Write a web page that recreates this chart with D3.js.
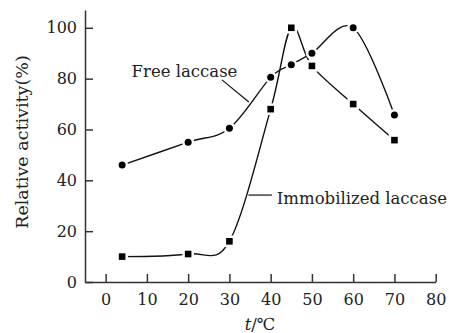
<!DOCTYPE html>
<html>
<head>
<meta charset="utf-8">
<script src="https://cdn.jsdelivr.net/npm/d3@7"></script>
<style>
  body { margin: 0; background: #fff; }
  svg text { font-family: "DejaVu Serif", "Liberation Serif", serif; fill: #222; }
</style>
</head>
<body>
<div id="chartContainer"></div>
<script>
// temperatures (°C) and relative activity (%)
var temps = [4, 20, 30, 40, 45, 50, 60, 70];
var freeLaccase = [46, 55, 60.5, 80.5, 85.5, 90, 100, 65.7];
var immobilizedLaccase = [10, 11, 16, 68, 100, 85, 70, 55.8];
var xTicks = [0, 10, 20, 30, 40, 50, 60, 70, 80];
var yTicks = [0, 20, 40, 60, 80, 100];

var width = 449, height = 333;

var x = d3.scaleLinear().domain([-5, 80]).range([85, 435.7]);
var y = d3.scaleLinear().domain([0, 107]).range([282, 10]);

var svg = d3.select('#chartContainer').append('svg')
    .attr('width', width).attr('height', height);

// axes, ticks pointing inwards
var xAxis = d3.axisBottom(x).tickValues(xTicks).tickSizeInner(-8).tickSizeOuter(0).tickPadding(12);
var yAxis = d3.axisLeft(y).tickValues(yTicks).tickSizeInner(-8).tickSizeOuter(0).tickPadding(8);

var gx = svg.append('g').attr('transform', 'translate(0,' + y(0) + ')').call(xAxis);
var gy = svg.append('g').attr('transform', 'translate(' + x(-5) + ',0)').call(yAxis);

[gx, gy].forEach(function(g) {
    g.selectAll('path, line').attr('stroke', '#333').attr('stroke-width', 1.5);
    g.selectAll('text').attr('font-size', '16px').attr('font-family', '"DejaVu Serif", serif').attr('fill', '#222');
});

// curves
var line = d3.line()
    .x(function(d) { return x(d[0]); })
    .y(function(d) { return y(d[1]); })
    .curve(d3.curveCardinal.tension(0));

var series = [
    { name: 'free', values: freeLaccase, shape: 'circle' },
    { name: 'immobilized', values: immobilizedLaccase, shape: 'square' }
];

series.forEach(function(s) {
    var pts = temps.map(function(t, i) { return [t, s.values[i]]; });
    svg.append('path').datum(pts)
        .attr('d', line)
        .attr('fill', 'none')
        .attr('stroke', '#111')
        .attr('stroke-width', 1.4);
});

// markers with a white halo so the line stops short of them
series.forEach(function(s) {
    var pts = temps.map(function(t, i) { return [t, s.values[i]]; });
    var g = svg.append('g');
    [{ pad: 2.5, fill: '#fff' }, { pad: 0, fill: '#000' }].forEach(function(layer) {
        if (s.shape === 'circle') {
            g.selectAll(null).data(pts).enter().append('circle')
                .attr('cx', function(d) { return x(d[0]); })
                .attr('cy', function(d) { return y(d[1]); })
                .attr('r', 3.5 + layer.pad)
                .attr('fill', layer.fill);
        } else {
            var h = 3.3 + layer.pad;
            g.selectAll(null).data(pts).enter().append('rect')
                .attr('x', function(d) { return x(d[0]) - h; })
                .attr('y', function(d) { return y(d[1]) - h; })
                .attr('width', 2 * h).attr('height', 2 * h)
                .attr('fill', layer.fill);
        }
    });
});

// series labels with leader lines (in data coordinates)
var labels = [
    { text: 'Free laccase', tx: 6.3, ty: 80.6, from: [28.2, 79.5], to: [34.7, 70.8] },
    { text: 'Immobilized laccase', tx: 41.5, ty: 30.7, from: [34.6, 34.2], to: [40.3, 34.2] }
];

labels.forEach(function(l) {
    svg.append('text').attr('x', x(l.tx)).attr('y', y(l.ty))
        .attr('font-size', '16.5px').text(l.text);
    svg.append('line')
        .attr('x1', x(l.from[0])).attr('y1', y(l.from[1]))
        .attr('x2', x(l.to[0])).attr('y2', y(l.to[1]))
        .attr('stroke', '#111').attr('stroke-width', 1.2);
});

// axis titles
svg.append('text')
    .attr('transform', 'translate(28,142) rotate(-90)')
    .attr('text-anchor', 'middle')
    .attr('font-size', '17.5px')
    .text('Relative activity(%)');

var xt = svg.append('text')
    .attr('x', 260).attr('y', 330)
    .attr('text-anchor', 'middle')
    .attr('font-size', '16.5px');
xt.append('tspan').attr('font-style', 'italic').text('t');
xt.append('tspan').text('/℃');
</script>
</body>
</html>
